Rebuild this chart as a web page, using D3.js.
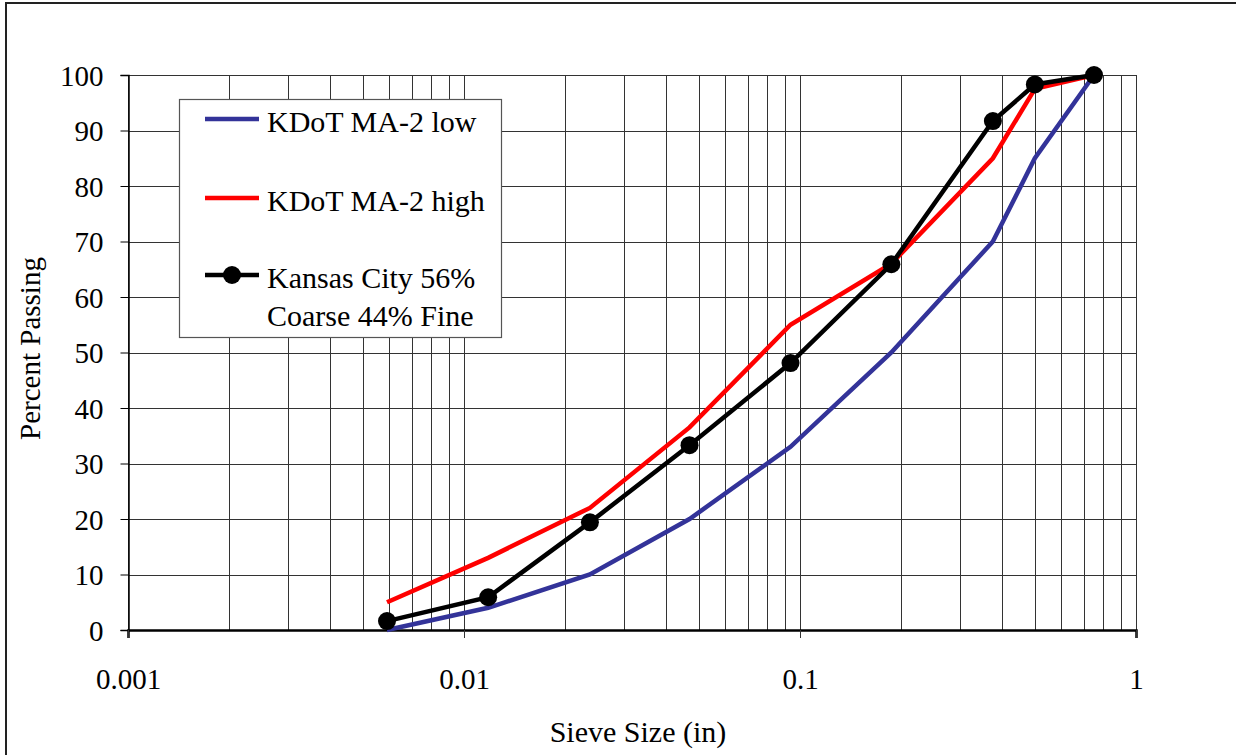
<!DOCTYPE html>
<html>
<head>
<meta charset="utf-8">
<script src="https://cdn.jsdelivr.net/npm/d3@7"></script>
<style>
  html, body { margin: 0; padding: 0; background: #fff; }
  svg { display: block; }
</style>
</head>
<body>
<svg id="chart" width="1236" height="755"></svg>
<script>
// Sieve openings (in): #100, #50, #30, #16, #8, #4, 3/8", 1/2", 3/4"
const sieveSizes = [0.0059, 0.0118, 0.0237, 0.0469, 0.0937, 0.187, 0.375, 0.5, 0.75];
const kdotLow    = [0, 4, 10, 20, 33, 50, 70, 85, 100];
const kdotHigh   = [5, 13, 22, 36.5, 55, 66, 85, 97.5, 100];
const kansasCity = [1.6, 5.9, 19.4, 33.3, 48.1, 65.9, 91.7, 98.3, 100];

const seriesNames = ["KDoT MA-2 low", "KDoT MA-2 high", "Kansas City 56%|Coarse 44% Fine"];
const seriesColors = ["#333399", "#ff0000", "#000000"];

const xTicks = [0.001, 0.01, 0.1, 1];
const xTickLabels = ["0.001", "0.01", "0.1", "1"];
const yTicks = [0, 10, 20, 30, 40, 50, 60, 70, 80, 90, 100];

const FONT = "Liberation Serif";
const svg = d3.select("#chart");
const W = 1236, H = 755;
const plot = { left: 128, right: 1136, top: 75, bottom: 630 };

const x = d3.scaleLog().domain([0.001, 1]).range([plot.left, plot.right]);
const y = d3.scaleLinear().domain([0, 100]).range([plot.bottom, plot.top]);

function serif(sel, size) {
  return sel.attr("font-family", FONT).attr("font-size", size).attr("fill", "#000");
}

// Outer chart frame
svg.append("rect")
  .attr("x", 6).attr("y", 3).attr("width", W + 20).attr("height", H + 20)
  .attr("fill", "#fff").attr("stroke", "#222").attr("stroke-width", 2);

// Vertical grid: every 1..9 multiple of each decade
const minorX = [];
for (let e = -3; e <= -1; e++) {
  for (let m = 1; m <= 9; m++) minorX.push(m * Math.pow(10, e));
}
minorX.push(1);
svg.append("g").selectAll("line").data(minorX).join("line")
  .attr("x1", d => Math.round(x(d)) + 0.5).attr("x2", d => Math.round(x(d)) + 0.5)
  .attr("y1", plot.top).attr("y2", plot.bottom)
  .attr("stroke", "#333").attr("stroke-width", 1);

// Horizontal grid
svg.append("g").selectAll("line").data(yTicks).join("line")
  .attr("x1", plot.left).attr("x2", plot.right)
  .attr("y1", d => Math.round(y(d)) + 0.5).attr("y2", d => Math.round(y(d)) + 0.5)
  .attr("stroke", "#333").attr("stroke-width", 1);

// Y axis
const yAxis = d3.axisLeft(y).tickValues(yTicks).tickSize(8).tickPadding(17)
  .tickFormat(d3.format("d"));
const gy = svg.append("g").attr("transform", `translate(${plot.left + 0.5},0)`).call(yAxis)
  .attr("font-family", FONT).attr("font-size", 29);
gy.select(".domain").attr("stroke", "#000").attr("stroke-width", 1.5);
gy.selectAll(".tick line").attr("stroke", "#000");
serif(gy.selectAll(".tick text"), 29).attr("dy", "0.36em");

// X axis
const xAxis = d3.axisBottom(x).tickValues(xTicks).tickSize(8).tickPadding(30)
  .tickFormat((d, i) => xTickLabels[i]);
const gx = svg.append("g").attr("transform", `translate(0,${plot.bottom})`).call(xAxis)
  .attr("font-family", FONT).attr("font-size", 29);
gx.select(".domain").attr("stroke", "#000").attr("stroke-width", 2.5);
gx.selectAll(".tick line").attr("stroke", "#333");
serif(gx.selectAll(".tick text"), 29);

// Axis titles
serif(svg.append("text"), 30)
  .attr("x", (plot.left + plot.right) / 2 + 6).attr("y", 742)
  .attr("text-anchor", "middle")
  .text("Sieve Size (in)");
serif(svg.append("text"), 29)
  .attr("transform", `translate(40,${(plot.top + plot.bottom) / 2 - 4}) rotate(-90)`)
  .attr("text-anchor", "middle")
  .text("Percent Passing");

// Gradation curves
const line = d3.line().x(d => x(d[0])).y(d => y(d[1]));
const allSeries = [kdotLow, kdotHigh, kansasCity];
allSeries.forEach((vals, i) => {
  svg.append("path")
    .datum(sieveSizes.map((s, j) => [s, vals[j]]))
    .attr("d", line)
    .attr("fill", "none")
    .attr("stroke", seriesColors[i])
    .attr("stroke-width", 4.5)
    .attr("stroke-linejoin", "miter");
});
svg.append("g").selectAll("circle")
  .data(sieveSizes.map((s, j) => [s, kansasCity[j]]))
  .join("circle")
  .attr("cx", d => x(d[0])).attr("cy", d => y(d[1]))
  .attr("r", 9).attr("fill", "#000");

// Legend
const lg = svg.append("g");
lg.append("rect")
  .attr("x", 179.5).attr("y", 99.5).attr("width", 322).attr("height", 238)
  .attr("fill", "#fff").attr("stroke", "#555").attr("stroke-width", 1.2);
const legendY = [119, 198, 275];
seriesNames.forEach((name, i) => {
  lg.append("line")
    .attr("x1", 205).attr("x2", 259).attr("y1", legendY[i]).attr("y2", legendY[i])
    .attr("stroke", seriesColors[i]).attr("stroke-width", 4.5);
  if (i === 2) {
    lg.append("circle").attr("cx", 232).attr("cy", legendY[i]).attr("r", 9).attr("fill", "#000");
  }
  const parts = name.split("|");
  parts.forEach((p, k) => {
    serif(lg.append("text"), 30)
      .attr("x", 267).attr("y", legendY[i] + 13 + k * 38)
      .text(p);
  });
});
</script>
</body>
</html>
